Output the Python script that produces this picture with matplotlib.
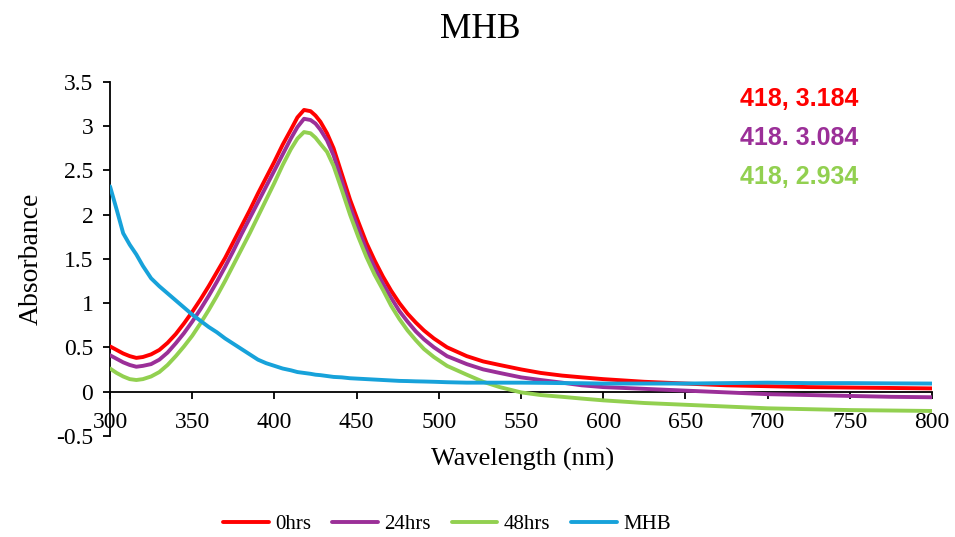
import matplotlib
matplotlib.use("Agg")
import matplotlib.pyplot as plt

wavelength = [300, 304, 308, 312, 316, 320, 325, 330, 335, 340, 345, 350, 355, 360, 365, 370, 375, 380, 385,
              390, 395, 400, 405, 410, 414, 418, 422, 425, 428, 432, 436, 441, 446, 451, 456, 461, 466, 471, 476,
              481, 486, 491, 497, 505, 517, 527, 537, 550, 562, 575, 587, 600, 625, 650, 675, 700, 725, 750, 775, 800]

abs_0hrs = [0.51, 0.47, 0.43, 0.40, 0.38, 0.39, 0.42, 0.47, 0.55, 0.65, 0.77, 0.90, 1.04, 1.19, 1.35, 1.51,
            1.69, 1.87, 2.05, 2.24, 2.42, 2.60, 2.79, 2.96, 3.10, 3.184, 3.17, 3.12, 3.05, 2.92, 2.75, 2.46, 2.17,
            1.92, 1.68, 1.48, 1.30, 1.14, 1.00, 0.88, 0.78, 0.69, 0.60, 0.50, 0.40, 0.34, 0.30, 0.25, 0.21, 0.18,
            0.16, 0.14, 0.11, 0.09, 0.07, 0.06, 0.05, 0.045, 0.04, 0.035]
abs_24hrs = [0.41, 0.37, 0.33, 0.30, 0.28, 0.29, 0.31, 0.36, 0.44, 0.545, 0.66, 0.79, 0.93, 1.08, 1.24, 1.41,
             1.59, 1.78, 1.96, 2.14, 2.32, 2.50, 2.68, 2.86, 2.99, 3.084, 3.07, 3.03, 2.96, 2.84, 2.67, 2.38, 2.09,
             1.84, 1.60, 1.40, 1.22, 1.06, 0.91, 0.79, 0.68, 0.59, 0.50, 0.40, 0.31, 0.25, 0.21, 0.16, 0.13, 0.10,
             0.07, 0.05, 0.03, 0.01, -0.01, -0.03, -0.04, -0.05, -0.06, -0.065]
abs_48hrs = [0.26, 0.21, 0.17, 0.14, 0.13, 0.14, 0.17, 0.22, 0.30, 0.40, 0.51, 0.63, 0.77, 0.92, 1.08, 1.25,
             1.43, 1.61, 1.79, 1.98, 2.17, 2.36, 2.56, 2.74, 2.86, 2.934, 2.92, 2.87, 2.80, 2.71, 2.55, 2.28, 2.00,
             1.75, 1.52, 1.32, 1.15, 0.97, 0.82, 0.69, 0.58, 0.48, 0.39, 0.29, 0.19, 0.11, 0.05, -0.01, -0.04, -0.06,
             -0.08, -0.10, -0.13, -0.15, -0.17, -0.19, -0.20, -0.21, -0.215, -0.22]
abs_mhb = [2.32, 2.06, 1.79, 1.66, 1.55, 1.42, 1.28, 1.19, 1.11, 1.03, 0.95, 0.87, 0.80, 0.73, 0.67, 0.60,
           0.54, 0.48, 0.42, 0.36, 0.32, 0.29, 0.26, 0.24, 0.22, 0.21, 0.20, 0.19, 0.185, 0.175, 0.165, 0.16, 0.15,
           0.145, 0.14, 0.135, 0.13, 0.125, 0.12, 0.118, 0.115, 0.113, 0.11, 0.105, 0.10, 0.10, 0.10, 0.10, 0.098,
           0.095, 0.094, 0.09, 0.09, 0.09, 0.095, 0.10, 0.095, 0.095, 0.092, 0.09]

series_labels = ["0hrs", "24hrs", "48hrs", "MHB"]
series_colors = ["#FF0000", "#9B2F98", "#92D050", "#17A2DA"]
peak_labels = ["418, 3.184", "418. 3.084", "418, 2.934"]

xticks = [300, 350, 400, 450, 500, 550, 600, 650, 700, 750, 800]
yticks = [-0.5, 0, 0.5, 1, 1.5, 2, 2.5, 3, 3.5]
ytick_labels = ["-0.5", "0", "0.5", "1", "1.5", "2", "2.5", "3", "3.5"]

serif = ["Liberation Serif", "DejaVu Serif"]
plt.rcParams["font.family"] = serif

fig = plt.figure(figsize=(9.55, 5.37), dpi=100)
ax = fig.add_axes([0.1152, 0.1886, 0.8607, 0.6587])

for vals, lab, col in zip([abs_0hrs, abs_24hrs, abs_48hrs, abs_mhb], series_labels, series_colors):
    ax.plot(wavelength, vals, color=col, lw=2.8, label=lab, solid_capstyle="round",
            solid_joinstyle="round", zorder=3)

ax.set_xlim(300, 800)
ax.set_ylim(-0.5, 3.5)
ax.set_xticks(xticks)
ax.set_yticks(yticks)
ax.set_yticklabels(ytick_labels)
ax.spines["top"].set_visible(False)
ax.spines["right"].set_visible(False)
ax.spines["bottom"].set_position(("data", 0))
ax.spines["bottom"].set_zorder(2)
for s in ["left", "bottom"]:
    ax.spines[s].set_linewidth(1.3)
    ax.spines[s].set_color("black")
ax.tick_params(axis="both", direction="out", length=5, width=1.3, labelsize=17, colors="black")
ax.tick_params(axis="x", pad=10)
ax.tick_params(axis="y", pad=7)

ax.set_ylabel("Absorbance", fontsize=20)
ax.yaxis.set_label_coords(-0.081, 0.5)
fig.text(523 / 955, 1 - 459 / 537, "Wavelength (nm)", fontsize=19, ha="center", va="center")
fig.text(480 / 955, 1 - 30 / 537, "MHB", fontsize=25.5, ha="center", va="center")

ann_y = [99, 138, 177]
for txt, yy, col in zip(peak_labels, ann_y, series_colors[:3]):
    fig.text(858 / 955, 1 - yy / 537, txt, color=col, fontsize=18, fontweight="bold",
             family=["Liberation Sans", "DejaVu Sans"], ha="right", va="center")

fig.legend(loc="center", bbox_to_anchor=(447 / 955, 1 - 524 / 537), ncol=4, frameon=False,
           fontsize=15, handlelength=2.2, handletextpad=0.3, columnspacing=1.0)

fig.savefig("out.png", dpi=100)
